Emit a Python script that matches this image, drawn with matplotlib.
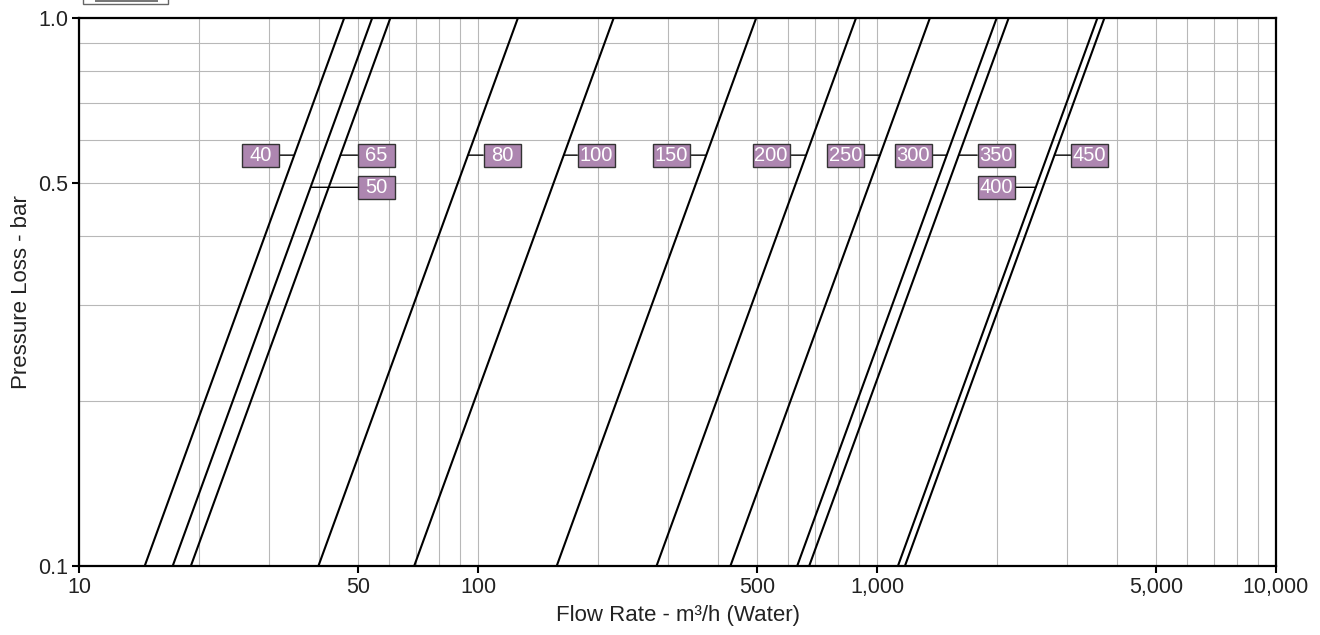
"""Pressure loss vs flow rate chart (log-log), sizes 40..450."""

import matplotlib.pyplot as plt
import numpy as np
from matplotlib.patches import Rectangle
from matplotlib.path import Path
from matplotlib.ticker import FixedLocator, LogLocator, NullFormatter

# Valve sizes and flow (m3/h) giving 1.0 bar pressure loss; loss goes with Q^2
sizes = ["40", "50", "65", "80", "100", "150", "200", "250", "300", "350", "400", "450"]
flow_at_1bar = [46.2, 54.3, 60.3, 125.9, 218.8, 498.0, 886.0, 1357.0, 1995.0, 2138.0, 3568.0, 3715.0]

# label placement: box centre flow and pressure level
label_x = [28.5, 55.7, 55.7, 115.0, 198.0, 305.5, 543.0, 836.0, 1233.0, 1990.0, 1990.0, 3408.0]
label_p = [0.562, 0.491, 0.562, 0.562, 0.562, 0.562, 0.562, 0.562, 0.562, 0.562, 0.491, 0.562]

x_ticks = [10, 50, 100, 500, 1000, 5000, 10000]
x_tick_labels = ["10", "50", "100", "500", "1,000", "5,000", "10,000"]
y_ticks = [0.1, 0.5, 1.0]
y_tick_labels = ["0.1", "0.5", "1.0"]

BOX_FACE = "#ad86b0"
GRID = "#b8b8b8"
TEXT = "#222222"

plt.rcParams["font.family"] = ["Liberation Sans", "DejaVu Sans"]


def fixed_box(x0, y0, width, height, mutation_size):
    # same-size label box regardless of text length
    w = 1.84 * mutation_size
    h = 1.15 * mutation_size
    cx = x0 + width / 2
    cy = y0 + height / 2
    l, r, b, t = cx - w / 2, cx + w / 2, cy - h / 2, cy + h / 2
    return Path([(l, b), (r, b), (r, t), (l, t), (l, b)],
                [Path.MOVETO, Path.LINETO, Path.LINETO, Path.LINETO, Path.CLOSEPOLY])


def main() -> None:
    fig = plt.figure(figsize=(13.2, 6.35), dpi=100)
    ax = fig.add_axes([79 / 1320, 69 / 635, 1197 / 1320, 548 / 635])

    ax.set_xscale("log")
    ax.set_yscale("log")
    ax.set_xlim(10, 10000)
    ax.set_ylim(0.1, 1.0)

    p = np.array([0.1, 1.0])
    for q1 in flow_at_1bar:
        ax.plot(q1 * np.sqrt(p), p, color="black", lw=1.5, zorder=3)

    for name, q1, lx, lp in zip(sizes, flow_at_1bar, label_x, label_p):
        ax.annotate(
            name,
            xy=(q1 * np.sqrt(lp), lp),
            xytext=(lx, lp),
            ha="center",
            va="center",
            fontsize=14.5,
            color="white",
            bbox=dict(boxstyle=fixed_box, fc=BOX_FACE, ec="#333333", lw=1.0),
            arrowprops=dict(arrowstyle="-", color="black", lw=1.0, shrinkA=0, shrinkB=0),
            zorder=4,
        )

    ax.xaxis.set_major_locator(FixedLocator(x_ticks))
    ax.set_xticklabels(x_tick_labels)
    ax.xaxis.set_minor_locator(LogLocator(base=10, subs=np.arange(2, 10)))
    ax.xaxis.set_minor_formatter(NullFormatter())
    ax.yaxis.set_major_locator(FixedLocator(y_ticks))
    ax.set_yticklabels(y_tick_labels)
    ax.yaxis.set_minor_locator(LogLocator(base=10, subs=np.arange(2, 10)))
    ax.yaxis.set_minor_formatter(NullFormatter())

    ax.grid(True, which="both", color=GRID, lw=0.8)
    ax.set_axisbelow(True)
    ax.tick_params(which="major", direction="out", length=5, width=1.5,
                   labelsize=15.5, labelcolor=TEXT, pad=3)
    ax.tick_params(which="minor", length=0)
    for spine in ax.spines.values():
        spine.set_linewidth(1.6)

    ax.set_xlabel("Flow Rate - m³/h (Water)", fontsize=16, color=TEXT, labelpad=5)
    ax.set_ylabel("Pressure Loss - bar", fontsize=16, color=TEXT, labelpad=4)

    # clipped header box at the very top edge
    fig.patches.append(Rectangle((83 / 1320, 631 / 635), 85 / 1320, 0.03,
                                 transform=fig.transFigure, fc="white", ec="#666666", lw=1.0))
    fig.patches.append(Rectangle((95 / 1320, 633.5 / 635), 63 / 1320, 0.03,
                                 transform=fig.transFigure, fc="#777777", ec="none"))

    fig.savefig("out.png", dpi=100)


if __name__ == "__main__":
    main()
